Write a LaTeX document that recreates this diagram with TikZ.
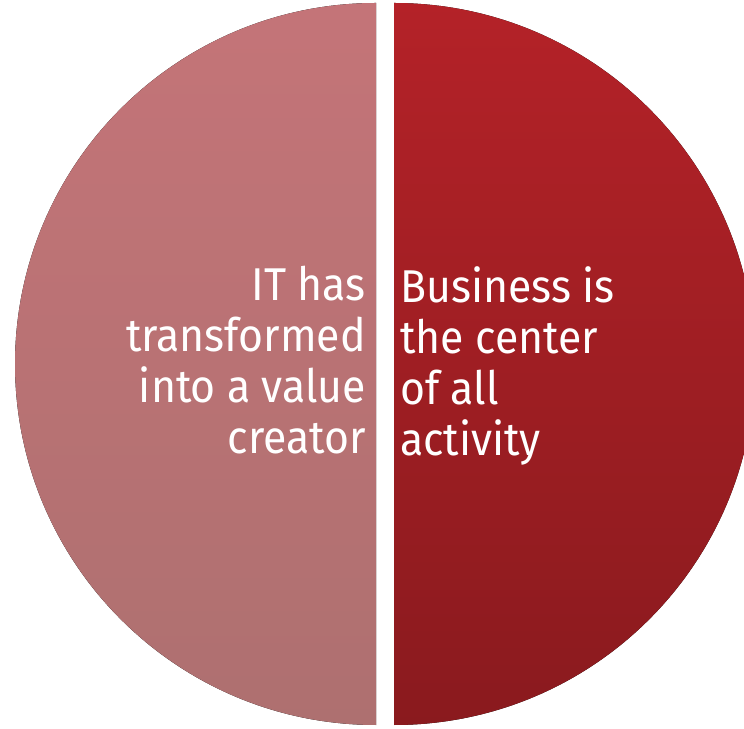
\documentclass[tikz,border=0pt]{standalone}
\usepackage{fontspec}
\setmainfont[FakeStretch=0.93]{Fira Sans}
\usepackage{tikz}

\definecolor{itTop}{RGB}{196,116,120}
\definecolor{itBot}{RGB}{174,112,112}
\definecolor{bizTop}{RGB}{180,34,40}
\definecolor{bizBot}{RGB}{138,26,30}

\tikzset{
	half/.style={draw=none},
	label/.style={text=white, inner sep=0pt, font=\fontsize{46}{51}\selectfont}
}

\begin{document}
\begin{tikzpicture}[x=1pt, y=1pt]
	\useasboundingbox (0,0) rectangle (744,728);
	\clip (0,0) rectangle (744,728);

	\fill [half, top color=itTop, bottom color=itBot] (376,725) arc (90:270:361) -- cycle;
	\fill [half, top color=bizTop, bottom color=bizBot] (394,725) arc (90:-90:361) -- cycle;

	\node [label, align=right, anchor=north east] (it) at (366,462) {IT has\\transformed\\into a value\\creator};
	\node [label, align=left, anchor=north west] (biz) at (400,462) {Business is\\the center\\of all\\activity};
	\end{tikzpicture}
\end{document}
